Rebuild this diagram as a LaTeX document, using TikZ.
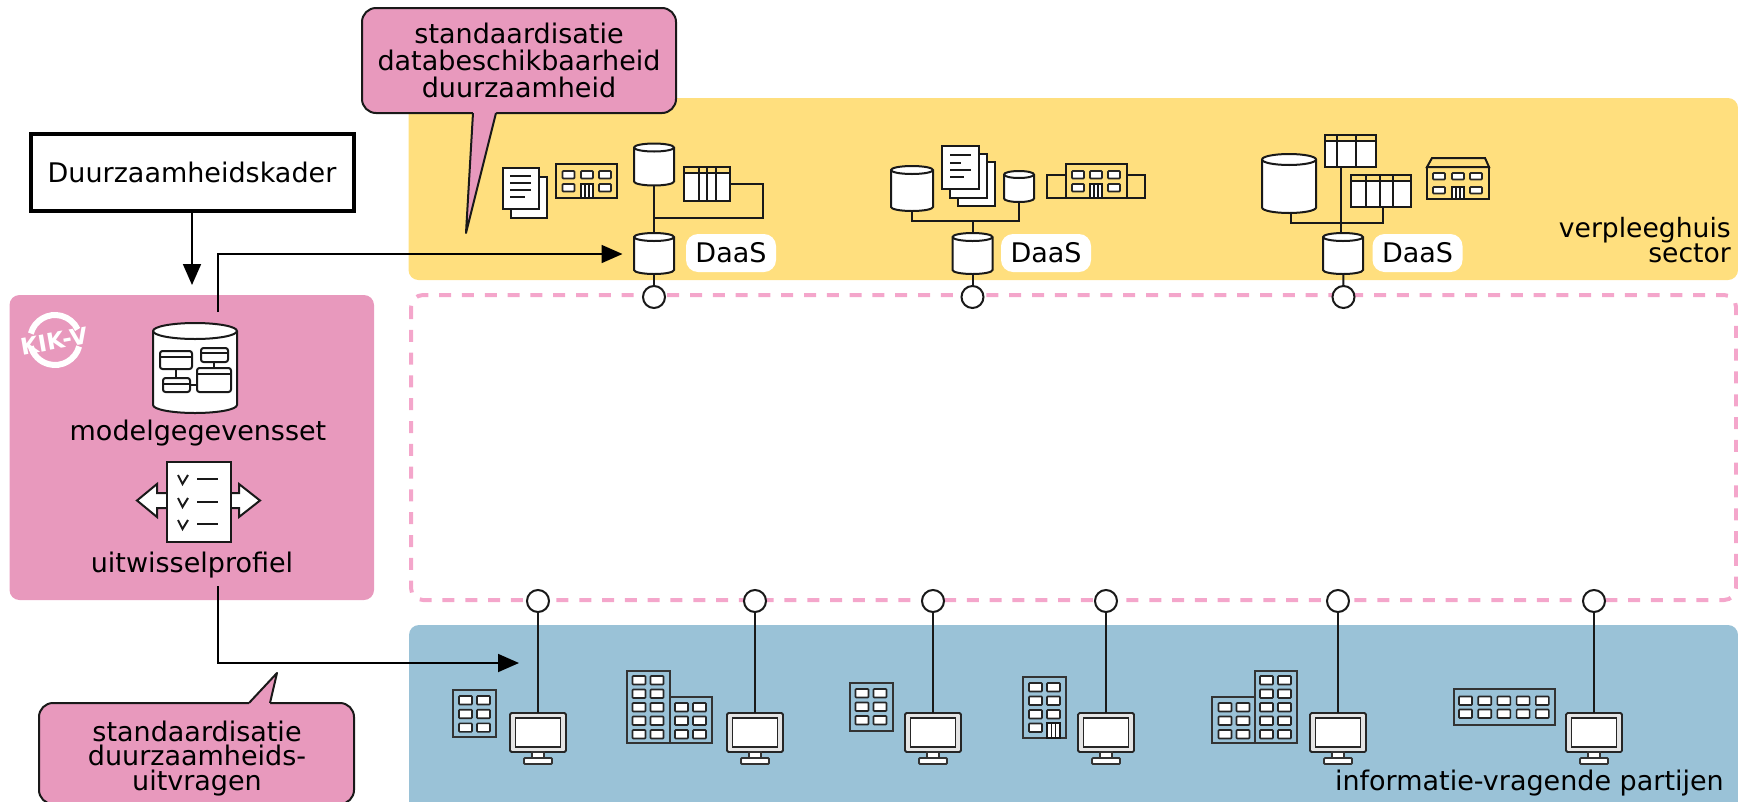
\documentclass[tikz,border=0pt]{standalone}
\usepackage{fontspec}
\setmainfont{DejaVu Sans}
\usetikzlibrary{arrows.meta}

\definecolor{sectoryellow}{HTML}{FFDF7E}
\definecolor{partyblue}{HTML}{9AC2D7}
\definecolor{kikpink}{HTML}{E899BD}
\definecolor{dashpink}{HTML}{F4A6CB}
\definecolor{inkgrey}{HTML}{333333}

\tikzset{
  label27/.style={font=\fontsize{27}{27}\selectfont, inner sep=0pt},
  icon/.style={draw=black!90, line width=2pt},
  wire/.style={draw=black!90, line width=2pt},
  flow/.style={draw=black, line width=1.8pt, -{Triangle[length=21pt,width=18pt]}},
  dbshell/.style={rectangle, inner sep=0pt, outer sep=0pt},
  port/.style={circle, draw=black!90, fill=white, line width=2pt, minimum size=22pt, inner sep=0pt, outer sep=0pt},
  tag/.style={label27, fill=white, rounded corners=12pt, minimum width=90pt, minimum height=38pt},
  screen/.style={rectangle, draw=black!85, fill=white!90!black, line width=1.8pt, rounded corners=1.5pt, minimum width=56pt, minimum height=39pt, inner sep=0pt, outer sep=0pt},
  screeninner/.style={rectangle, draw=black!85, fill=white, line width=1.8pt, minimum width=45pt, minimum height=29pt, inner sep=0pt},
  bubble/.style={rectangle, draw=black!90, fill=kikpink, line width=2pt, rounded corners=14pt, inner sep=0pt},
  bubbletail/.style={draw=black!90, line width=2pt, line join=round},
  block/.style={draw=inkgrey, line width=1.8pt},
  pane/.style={draw=black!85, fill=white, line width=1.6pt, rounded corners=0.8pt}
}

% name cx cy w h ry
\newcommand{\dbstack}[6]{
  \node[dbshell, minimum width=#4pt, minimum height=#5pt] (#1) at (#2,#3) {};
  \draw[icon, fill=white] ({#2-#4/2},{#3-#5/2+#6})
    arc[start angle=180, end angle=360, x radius=#4/2, y radius=#6]
    -- ({#2+#4/2},{#3+#5/2-#6})
    arc[start angle=0, end angle=180, x radius=#4/2, y radius=#6] -- cycle;
  \draw[icon] ({#2+#4/2},{#3-#5/2+#6}) arc[start angle=0, end angle=180, x radius=#4/2, y radius=#6];
}
% window rows: x y cols rows dx dy
\newcommand{\panes}[6]{
  \foreach \c in {1,...,#3} \foreach \r in {1,...,#4}
    \draw[pane] ({#1+(\c-1)*#5},{#2+(\r-1)*#6}) rectangle +(13,8.5);
}
% x1 y1 x2 y2 and list of column lines
\newcommand{\datatable}[5]{
  \draw[icon, fill=white] (#1,#2) rectangle (#3,#4);
  \draw[icon, fill=sectoryellow] (#1,#2) rectangle (#3,#2+6);
  \foreach \c in {#5} \draw[icon] (\c,#2) -- (\c,#4);
}
\newcommand{\sheet}[4]{\draw[icon, fill=white] (#1,#2) rectangle (#3,#4);}
\newcommand{\door}[4]{
  \draw[icon, fill=white] (#1,#2) rectangle (#3,#4);
  \draw[icon, line width=1.2pt] ({#1+(#3-#1)/3},#2) -- ({#1+(#3-#1)/3},#4)
    ({#1+2*(#3-#1)/3},#2) -- ({#1+2*(#3-#1)/3},#4);
}

\begin{document}
\begin{tikzpicture}[x=1pt,y=-1pt]
\useasboundingbox (0,0) rectangle (1738,801);

% zones
\fill[sectoryellow, rounded corners=10pt] (408.5,98) rectangle (1738,280);
\fill[partyblue, rounded corners=10pt] (409,625) rectangle (1738,830);
\draw[dashpink, line width=4pt, dash pattern=on 12pt off 10.8pt, rounded corners=12pt] (411,295) rectangle (1736,600);
\fill[kikpink, rounded corners=10pt] (9.5,295) rectangle (374,600);

% logo
\draw[white, line width=6pt] (55,340) ++(-165:25) arc[start angle=-165, end angle=-25, radius=25];
\draw[white, line width=6pt] (55,340) ++(15:25) arc[start angle=15, end angle=165, radius=25];
\node[label27, font=\fontsize{23}{23}\bfseries\selectfont, text=white, rotate=10] (logo) at (54,341) {KIK-V};

% framework
\node[label27, draw=black, line width=4pt, fill=white, minimum width=323pt, minimum height=77pt] (kader) at (192,172) {Duurzaamheidskader};
\coordinate (kaderin) at (192,285);
\draw[flow] (kader) -- (kaderin);

% model data set
\dbstack{modelset}{195}{368}{84}{90}{8}
\foreach \a/\b/\c/\d/\e in {160/351/192/369/356.5, 201/348/228/362/353, 163/378/190/392/384, 197/368/231/392/374}{
  \draw[icon, rounded corners=2.5pt] (\a,\b) rectangle (\c,\d);
  \draw[icon] (\a,\e) -- (\c,\e);
}
\draw[icon] (176,369) -- (176,378) (190,385) -- (197,385) (214,362) -- (214,368);
\node[label27, anchor=base] (modeltxt) at (198,440) {modelgegevensset};

% exchange profile
\draw[icon, fill=white, line join=miter] (167,493) -- (157,493) -- (157,484) -- (137,500.5) -- (157,517) -- (157,508) -- (167,508);
\draw[icon, fill=white, line join=miter] (231,493) -- (239,493) -- (239,484) -- (260,500.5) -- (239,517) -- (239,508) -- (231,508);
\node[rectangle, icon, fill=white, minimum width=64pt, minimum height=80pt, inner sep=0pt] (profile) at (199,502) {};
\foreach \y in {479,502,524}{
  \draw[icon] (178,\y-4) -- (182.5,\y+5) -- (188,\y-4);
  \draw[icon] (197,\y) -- (218,\y);
}
\node[label27, anchor=base] (profiletxt) at (192,572) {uitwisselprofiel};

% elbows out of the panel
\coordinate (upstart) at (218,312);
\coordinate (uptip) at (622.5,254);
\draw[flow] (upstart) |- (uptip);
\coordinate (downstart) at (218,586);
\coordinate (downtip) at (519,663);
\draw[flow] (downstart) |- (downtip);

% sector column one
\sheet{511}{177}{547}{218}
\sheet{503}{168}{539}{209}
\foreach \y/\e in {176/531,183/531,190/531,197/525} \draw[icon] (510,\y) -- (\e,\y);
\draw[icon] (556,164) rectangle (617,198);
\foreach \x in {562.5,581,599} \draw[pane, line width=1.8pt] (\x,171) rectangle +(12,7.5);
\foreach \x in {562.5,599} \draw[pane, line width=1.8pt] (\x,184) rectangle +(12,7.5);
\door{581}{184}{593}{198}
\dbstack{srcA}{654}{164.5}{40}{42}{4}
\datatable{684}{167}{730}{201}{699,707,716}
\dbstack{daasA}{654}{253.5}{40}{41}{4}
\node[tag] (tagA) at (731,253) {DaaS};
\node[port] (portA) at (654,297) {};
\draw[wire] (srcA) -- (daasA) (daasA) -- (portA);
\draw[wire] (654,218) -- (763,218) -- (763,184) -- (730,184);

% sector column two
\dbstack{srcB}{912}{188.5}{42}{45}{4}
\sheet{958}{162}{995}{206}
\sheet{950}{154}{987}{198}
\sheet{942}{146}{979}{189}
\draw[icon] (950,155) -- (971,155) (950,163) -- (961,163) (950,169.5) -- (971,169.5) (950,176.5) -- (964,176.5);
\dbstack{srcC}{1019}{186.5}{30}{31}{3.5}
\draw[icon] (1047,175) rectangle (1145,198);
\draw[icon, fill=sectoryellow] (1066,164) rectangle (1127,198);
\foreach \x in {1072,1090,1108} \draw[pane, line width=1.8pt] (\x,171) rectangle +(12,7.5);
\foreach \x in {1072,1108} \draw[pane, line width=1.8pt] (\x,184) rectangle +(12,7.5);
\door{1090}{184}{1102}{198}
\dbstack{daasB}{972.5}{253.5}{40}{41}{4}
\node[tag] (tagB) at (1046,253) {DaaS};
\node[port] (portB) at (972.5,297) {};
\draw[wire] (srcB) |- (972.5,221) -| (srcC);
\draw[wire] (972.5,221) -- (daasB) (daasB) -- (portB);

% sector column three
\dbstack{srcD}{1289}{183.5}{54}{59}{5.5}
\datatable{1325}{135}{1376}{167}{1337,1356}
\datatable{1351}{175}{1411}{207}{1366,1380,1393}
\draw[icon] (1427,167) -- (1432,158) -- (1485,158) -- (1489,167) -- cycle;
\draw[icon] (1427,167) rectangle (1489,199);
\foreach \x in {1433,1452,1470} \draw[pane, line width=1.8pt] (\x,173) rectangle +(12,6.5);
\foreach \x in {1433,1470} \draw[pane, line width=1.8pt] (\x,187) rectangle +(12,6.5);
\door{1452}{187}{1464}{199}
\draw[wire] (1341,167) -- (1341,233);
\dbstack{daasC}{1343}{253.5}{40}{41}{4}
\node[tag] (tagC) at (1417.5,253) {DaaS};
\node[port] (portC) at (1343.5,297) {};
\draw[wire] (daasC) -- (portC);
\draw[wire] (1291,213) -- (1291,223) -- (1383,223) -- (1383,207);
\node[label27, align=right, anchor=east, font=\fontsize{26.6}{25}\selectfont] (sectortxt) at (1731,240) {verpleeghuis\\sector};

% parties
\foreach \i/\x in {A/538,B/755,C/933,D/1106,E/1338,F/1594}{
  \node[port] (end\i) at (\x,601) {};
  \node[screen] (screen\i) at (\x,732.5) {};
  \node[screeninner] (pane\i) at (screen\i) {};
  \draw[block, fill=white] (\x-6,752) rectangle (\x+6,758);
  \draw[block, fill=white, rounded corners=1pt] (\x-14,758) rectangle (\x+14,764);
  \draw[wire] (end\i) -- (screen\i);
}
\draw[block] (453,690) rectangle (496,737);
\panes{459}{696}{2}{3}{18}{13.7}
\draw[block] (627,671) rectangle (670,743);
\panes{632.5}{676}{2}{5}{18}{13.5}
\draw[block] (670,697) rectangle (712,743);
\panes{675}{703}{2}{3}{18}{13.5}
\draw[block] (850,683) rectangle (893,731);
\panes{855.5}{689}{2}{3}{18}{13.5}
\draw[block] (1023,677) rectangle (1066,738);
\panes{1029}{683}{2}{3}{18}{13.5}
\panes{1029}{723.5}{1}{1}{18}{13.5}
\door{1047}{723}{1060}{738}
\draw[block] (1212,697) rectangle (1255,743);
\panes{1218.5}{703}{2}{3}{18}{13.5}
\draw[block] (1255,671) rectangle (1297,743);
\panes{1260}{676}{2}{5}{18}{13.5}
\draw[block] (1454,689) rectangle (1555,725);
\panes{1459}{696.5}{5}{2}{19.2}{13}
\node[label27, anchor=base east] (partytxt) at (1724,790) {informatie-vragende partijen};

% callouts
\node[bubble, label27, align=center, minimum width=314pt, minimum height=105pt] (topnote) at (519,60.5) {standaardisatie\\databeschikbaarheid\\duurzaamheid};
\fill[kikpink] (473,110) -- (473,113) -- (466,233) -- (496,113) -- (496,110) -- cycle;
\draw[bubbletail] (473,113) -- (466,233) -- (496,113);
\node[bubble, minimum width=315pt, minimum height=101pt] (botbox) at (196.5,753.5) {};
\fill[kikpink] (249,706) -- (249,703) -- (277,673) -- (270,703) -- (270,706) -- cycle;
\draw[bubbletail] (249,703) -- (277,673) -- (270,703);
\node[label27, align=center, font=\fontsize{27}{24.5}\selectfont] (botnote) at (197,758.5) {standaardisatie\\duurzaamheids-\\uitvragen};

\end{tikzpicture}
\end{document}
